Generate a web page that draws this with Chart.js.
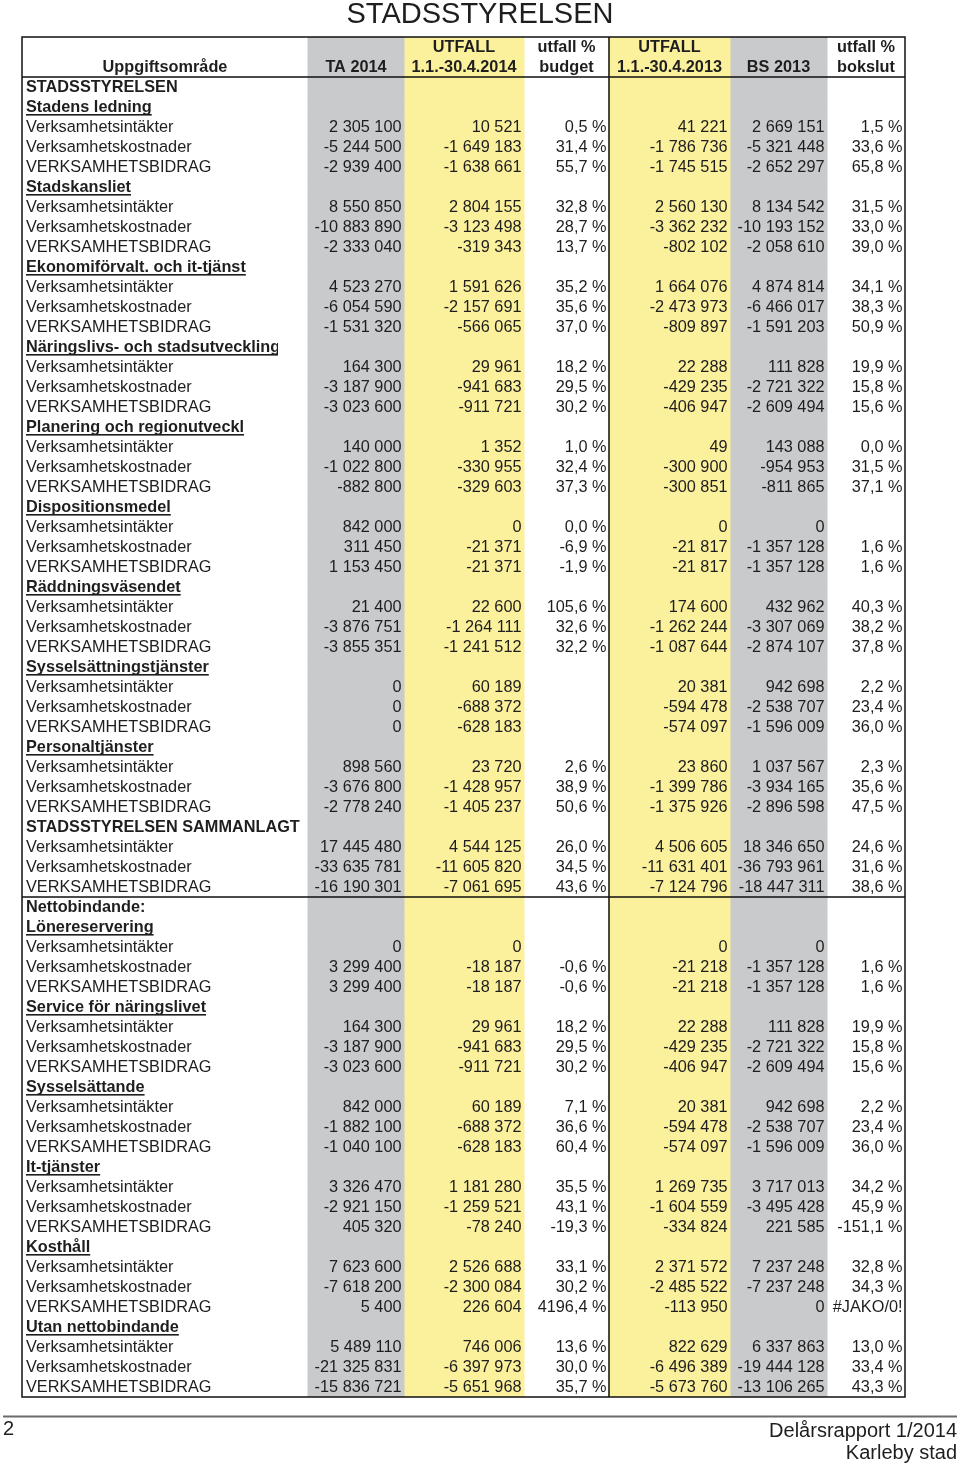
<!DOCTYPE html>
<html>
<head>
<meta charset="utf-8">
<title>Stadsstyrelsen</title>
<script src="https://cdn.jsdelivr.net/npm/chart.js@4.4.1/dist/chart.umd.min.js"></script>
<style>
  html, body { margin: 0; padding: 0; background: #fff; }
  #table-chart { display: block; }
</style>
</head>
<body>
<canvas id="table-chart" width="960" height="1465"></canvas>
<script>
// row labels, top to bottom
const rowLabels = [
    'STADSSTYRELSEN',
    'Stadens ledning', 'Verksamhetsintäkter', 'Verksamhetskostnader', 'VERKSAMHETSBIDRAG',
    'Stadskansliet', 'Verksamhetsintäkter', 'Verksamhetskostnader', 'VERKSAMHETSBIDRAG',
    'Ekonomiförvalt. och it-tjänst', 'Verksamhetsintäkter', 'Verksamhetskostnader', 'VERKSAMHETSBIDRAG',
    'Näringslivs- och stadsutveckling', 'Verksamhetsintäkter', 'Verksamhetskostnader', 'VERKSAMHETSBIDRAG',
    'Planering och regionutveckl', 'Verksamhetsintäkter', 'Verksamhetskostnader', 'VERKSAMHETSBIDRAG',
    'Dispositionsmedel', 'Verksamhetsintäkter', 'Verksamhetskostnader', 'VERKSAMHETSBIDRAG',
    'Räddningsväsendet', 'Verksamhetsintäkter', 'Verksamhetskostnader', 'VERKSAMHETSBIDRAG',
    'Sysselsättningstjänster', 'Verksamhetsintäkter', 'Verksamhetskostnader', 'VERKSAMHETSBIDRAG',
    'Personaltjänster', 'Verksamhetsintäkter', 'Verksamhetskostnader', 'VERKSAMHETSBIDRAG',
    'STADSSTYRELSEN SAMMANLAGT', 'Verksamhetsintäkter', 'Verksamhetskostnader', 'VERKSAMHETSBIDRAG',
    'Nettobindande:',
    'Lönereservering', 'Verksamhetsintäkter', 'Verksamhetskostnader', 'VERKSAMHETSBIDRAG',
    'Service för näringslivet', 'Verksamhetsintäkter', 'Verksamhetskostnader', 'VERKSAMHETSBIDRAG',
    'Sysselsättande', 'Verksamhetsintäkter', 'Verksamhetskostnader', 'VERKSAMHETSBIDRAG',
    'It-tjänster', 'Verksamhetsintäkter', 'Verksamhetskostnader', 'VERKSAMHETSBIDRAG',
    'Kosthåll', 'Verksamhetsintäkter', 'Verksamhetskostnader', 'VERKSAMHETSBIDRAG',
    'Utan nettobindande', 'Verksamhetsintäkter', 'Verksamhetskostnader', 'VERKSAMHETSBIDRAG'
];

const headerTop = ['', '', 'UTFALL', 'utfall %', 'UTFALL', '', 'utfall %'];
const headerBottom = ['Uppgiftsområde', 'TA 2014', '1.1.-30.4.2014', 'budget', '1.1.-30.4.2013', 'BS 2013', 'bokslut'];

const ta2014 = [null,
    null, 2305100, -5244500, -2939400,
    null, 8550850, -10883890, -2333040,
    null, 4523270, -6054590, -1531320,
    null, 164300, -3187900, -3023600,
    null, 140000, -1022800, -882800,
    null, 842000, 311450, 1153450,
    null, 21400, -3876751, -3855351,
    null, 0, 0, 0,
    null, 898560, -3676800, -2778240,
    null, 17445480, -33635781, -16190301,
    null,
    null, 0, 3299400, 3299400,
    null, 164300, -3187900, -3023600,
    null, 842000, -1882100, -1040100,
    null, 3326470, -2921150, 405320,
    null, 7623600, -7618200, 5400,
    null, 5489110, -21325831, -15836721];

const utfall2014 = [null,
    null, 10521, -1649183, -1638661,
    null, 2804155, -3123498, -319343,
    null, 1591626, -2157691, -566065,
    null, 29961, -941683, -911721,
    null, 1352, -330955, -329603,
    null, 0, -21371, -21371,
    null, 22600, -1264111, -1241512,
    null, 60189, -688372, -628183,
    null, 23720, -1428957, -1405237,
    null, 4544125, -11605820, -7061695,
    null,
    null, 0, -18187, -18187,
    null, 29961, -941683, -911721,
    null, 60189, -688372, -628183,
    null, 1181280, -1259521, -78240,
    null, 2526688, -2300084, 226604,
    null, 746006, -6397973, -5651968];

const pctBudget = [null,
    null, 0.5, 31.4, 55.7,
    null, 32.8, 28.7, 13.7,
    null, 35.2, 35.6, 37.0,
    null, 18.2, 29.5, 30.2,
    null, 1.0, 32.4, 37.3,
    null, 0.0, -6.9, -1.9,
    null, 105.6, 32.6, 32.2,
    null, null, null, null,
    null, 2.6, 38.9, 50.6,
    null, 26.0, 34.5, 43.6,
    null,
    null, null, -0.6, -0.6,
    null, 18.2, 29.5, 30.2,
    null, 7.1, 36.6, 60.4,
    null, 35.5, 43.1, -19.3,
    null, 33.1, 30.2, 4196.4,
    null, 13.6, 30.0, 35.7];

const utfall2013 = [null,
    null, 41221, -1786736, -1745515,
    null, 2560130, -3362232, -802102,
    null, 1664076, -2473973, -809897,
    null, 22288, -429235, -406947,
    null, 49, -300900, -300851,
    null, 0, -21817, -21817,
    null, 174600, -1262244, -1087644,
    null, 20381, -594478, -574097,
    null, 23860, -1399786, -1375926,
    null, 4506605, -11631401, -7124796,
    null,
    null, 0, -21218, -21218,
    null, 22288, -429235, -406947,
    null, 20381, -594478, -574097,
    null, 1269735, -1604559, -334824,
    null, 2371572, -2485522, -113950,
    null, 822629, -6496389, -5673760];

const bs2013 = [null,
    null, 2669151, -5321448, -2652297,
    null, 8134542, -10193152, -2058610,
    null, 4874814, -6466017, -1591203,
    null, 111828, -2721322, -2609494,
    null, 143088, -954953, -811865,
    null, 0, -1357128, -1357128,
    null, 432962, -3307069, -2874107,
    null, 942698, -2538707, -1596009,
    null, 1037567, -3934165, -2896598,
    null, 18346650, -36793961, -18447311,
    null,
    null, 0, -1357128, -1357128,
    null, 111828, -2721322, -2609494,
    null, 942698, -2538707, -1596009,
    null, 3717013, -3495428, 221585,
    null, 7237248, -7237248, 0,
    null, 6337863, -19444128, -13106265];

const pctBokslut = [null,
    null, 1.5, 33.6, 65.8,
    null, 31.5, 33.0, 39.0,
    null, 34.1, 38.3, 50.9,
    null, 19.9, 15.8, 15.6,
    null, 0.0, 31.5, 37.1,
    null, null, 1.6, 1.6,
    null, 40.3, 38.2, 37.8,
    null, 2.2, 23.4, 36.0,
    null, 2.3, 35.6, 47.5,
    null, 24.6, 31.6, 38.6,
    null,
    null, null, 1.6, 1.6,
    null, 19.9, 15.8, 15.6,
    null, 2.2, 23.4, 36.0,
    null, 34.2, 45.9, -151.1,
    null, 32.8, 34.3, '#JAKO/0!',
    null, 13.0, 33.4, 43.3];

// labels that are bold but not underlined
const plainBold = ['STADSSTYRELSEN', 'STADSSTYRELSEN SAMMANLAGT', 'Nettobindande:'];

// layout
const colWidths = [286, 96, 120, 85, 121, 97, 78];
const colEdges = [0];
colWidths.forEach(w => colEdges.push(colEdges[colEdges.length - 1] + w));
const GREY = '#c9cacc';
const YELLOW = '#fbf09b';
const INK = '#1e1e1e';
const FONT = '"Liberation Sans", Arial, Helvetica, sans-serif';
const CELL = '16.3px ' + FONT;
const CELL_BOLD = 'bold 16.3px ' + FONT;

const columns = [
    { values: ta2014, pct: false },
    { values: utfall2014, pct: false },
    { values: pctBudget, pct: true },
    { values: utfall2013, pct: false },
    { values: bs2013, pct: false },
    { values: pctBokslut, pct: true }
];

const allRows = ['head1', 'head2'].concat(rowLabels);

function fmtNumber(v) {
    const s = Math.abs(v).toString().replace(/\B(?=(\d{3})+(?!\d))/g, ' ');
    return (v < 0 ? '-' : '') + s;
}
function fmtPct(v) {
    if (typeof v === 'string') return v;
    return v.toFixed(1).replace('.', ',') + ' %';
}

function band(col, color) {
    return {
        data: allRows.map(() => [colEdges[col], colEdges[col + 1]]),
        backgroundColor: color,
        borderWidth: 0,
        barPercentage: 1,
        categoryPercentage: 1,
        grouped: false,
        inflateAmount: 0.5
    };
}

const tablePlugin = {
    id: 'tableText',
    afterDatasetsDraw(chart) {
        const ctx = chart.ctx;
        const x = chart.scales.x;
        const y = chart.scales.y;
        const area = chart.chartArea;
        const half = (y.getPixelForValue(1) - y.getPixelForValue(0)) / 2;
        const dy = 0.5; // nudge text down a little
        ctx.save();
        ctx.fillStyle = INK;
        ctx.textBaseline = 'middle';

        // page title
        ctx.font = '29px ' + FONT;
        ctx.textAlign = 'center';
        ctx.fillText('STADSSTYRELSEN', chart.width / 2, 15);

        // header
        ctx.font = CELL_BOLD;
        for (let c = 0; c < 7; c++) {
            const cx = (x.getPixelForValue(colEdges[c]) + x.getPixelForValue(colEdges[c + 1])) / 2;
            if (headerTop[c]) ctx.fillText(headerTop[c], cx, y.getPixelForValue(0) + dy);
            ctx.fillText(headerBottom[c], cx, y.getPixelForValue(1) + dy);
        }

        // rows
        rowLabels.forEach((label, r) => {
            const py = y.getPixelForValue(r + 2) + dy;
            const lx = x.getPixelForValue(colEdges[0]) + 4;
            const isData = columns[0].values[r] !== null || columns[1].values[r] !== null;
            ctx.textAlign = 'left';
            if (isData) {
                ctx.font = CELL;
                ctx.fillText(label, lx, py);
            } else {
                ctx.font = CELL_BOLD;
                if (plainBold.includes(label)) {
                    ctx.fillText(label, lx, py);
                } else {
                    ctx.save();
                    ctx.beginPath();
                    ctx.rect(lx - 2, py - half, x.getPixelForValue(colEdges[1]) - 28 - lx, half * 2);
                    ctx.clip();
                    ctx.fillText(label, lx, py);
                    const w = ctx.measureText(label).width;
                    ctx.fillRect(lx, py + 6.5, w, 1.6);
                    ctx.restore();
                }
            }
            ctx.font = CELL;
            ctx.textAlign = 'right';
            columns.forEach((col, c) => {
                const v = col.values[r];
                if (v === null || v === undefined) return;
                const rx = x.getPixelForValue(colEdges[c + 2]) - 2.5;
                ctx.fillText(col.pct ? fmtPct(v) : fmtNumber(v), rx, py);
            });
        });

        // rules
        ctx.strokeStyle = '#111';
        ctx.lineWidth = 1.5;
        ctx.strokeRect(area.left, area.top, area.right - area.left, area.bottom - area.top);
        ctx.beginPath();
        [1, rowLabels.indexOf('Nettobindande:') + 1].forEach(i => {
            const ly = y.getPixelForValue(i) + half;
            ctx.moveTo(area.left, ly);
            ctx.lineTo(area.right, ly);
        });
        const vx = x.getPixelForValue(colEdges[4]);
        ctx.moveTo(vx, area.top);
        ctx.lineTo(vx, area.bottom);
        ctx.stroke();

        // page footer
        ctx.strokeStyle = '#6b6b6b';
        ctx.lineWidth = 2;
        ctx.beginPath();
        ctx.moveTo(3, 1416.5);
        ctx.lineTo(957, 1416.5);
        ctx.stroke();
        ctx.font = '20px ' + FONT;
        ctx.textAlign = 'left';
        ctx.fillText('2', 3, 1429.5);
        ctx.textAlign = 'right';
        ctx.fillText('Delårsrapport 1/2014', 957, 1431.5);
        ctx.fillText('Karleby stad', 957, 1453.5);
        ctx.restore();
    }
};

Chart.defaults.font.family = FONT;
Chart.defaults.color = INK;

new Chart(document.getElementById('table-chart'), {
    type: 'bar',
    data: {
        labels: allRows,
        datasets: [
            band(1, GREY),
            band(2, YELLOW),
            band(4, YELLOW),
            band(5, GREY)
        ]
    },
    options: {
        indexAxis: 'y',
        responsive: false,
        animation: false,
        events: [],
        layout: { padding: { left: 22, right: 55, top: 37, bottom: 68 } },
        scales: {
            x: { type: 'linear', min: 0, max: colEdges[colEdges.length - 1], display: false },
            y: { type: 'category', offset: true, display: false }
        },
        plugins: {
            legend: { display: false },
            tooltip: { enabled: false },
            title: { display: false }
        }
    },
    plugins: [tablePlugin]
});
</script>
</body>
</html>
